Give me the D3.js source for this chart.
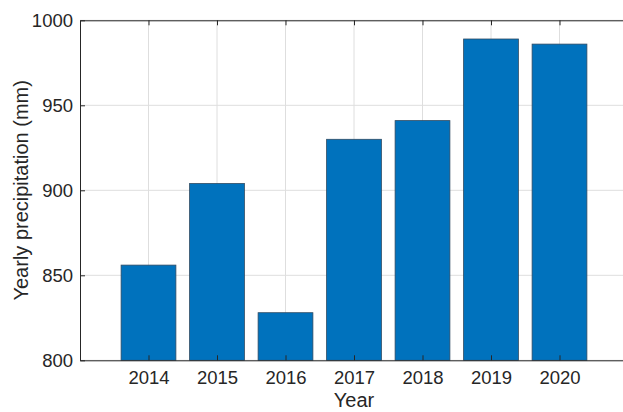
<!DOCTYPE html>
<html>
<head>
    <script src="https://d3js.org/d3.v7.min.js"></script>
    <style>
        body {
            margin: 0;
            background: #fff;
        }
        text {
            font-family: Helvetica, "Liberation Sans", Arial, sans-serif;
            fill: #262626;
        }
        .tick-label {
            font-size: 18.5px;
        }
        .axis-label {
            font-size: 20px;
        }
        .grid line {
            stroke: #dedede;
            stroke-width: 1;
        }
    </style>
</head>
<body>
    <svg id="chart" width="623" height="412"></svg>
    <script>
        // data
        const years = [2014, 2015, 2016, 2017, 2018, 2019, 2020];
        const precipitation = [856, 904, 828, 930, 941, 989, 986];
        const yTicks = [800, 850, 900, 950, 1000];

        const svg = d3.select("svg#chart");
        const margin = { top: 20.3, left: 80, bottom: 51.7 };
        const plotRight = 628; // axes run a little past the picture edge
        const height = 412;

        const xScale = d3.scaleLinear()
            .domain([2013, 2021])
            .range([margin.left, plotRight]);
        const yScale = d3.scaleLinear()
            .domain([800, 1000])
            .range([height - margin.bottom, margin.top]);

        const barWidth = (xScale(2014) - xScale(2013)) * 0.8;

        // grid
        const grid = svg.append("g").attr("class", "grid");
        grid.selectAll("line.v")
            .data(years)
            .join("line")
            .attr("class", "v")
            .attr("x1", d => xScale(d)).attr("x2", d => xScale(d))
            .attr("y1", yScale(800)).attr("y2", yScale(1000));
        grid.selectAll("line.h")
            .data(yTicks)
            .join("line")
            .attr("class", "h")
            .attr("x1", xScale(2013)).attr("x2", xScale(2021))
            .attr("y1", d => yScale(d)).attr("y2", d => yScale(d));

        // bars
        svg.append("g")
            .selectAll("rect")
            .data(years.map((y, i) => ({ year: y, value: precipitation[i] })))
            .join("rect")
            .attr("x", d => xScale(d.year) - barWidth / 2)
            .attr("y", d => yScale(d.value))
            .attr("width", barWidth)
            .attr("height", d => yScale(800) - yScale(d.value))
            .attr("fill", "#0072BD")
            .attr("stroke", "#2f4b63")
            .attr("stroke-width", 0.8);

        // axes (MATLAB style: ticks pointing inwards, box on)
        const axisColor = "#262626";
        const tickLen = 5;

        const bottomAxis = d3.axisBottom(xScale)
            .tickValues(years)
            .tickSizeInner(-tickLen)
            .tickSizeOuter(0)
            .tickPadding(11)
            .tickFormat(d3.format("d"));
        const gx = svg.append("g")
            .attr("transform", `translate(0,${yScale(800)})`)
            .call(bottomAxis);

        const leftAxis = d3.axisLeft(yScale)
            .tickValues(yTicks)
            .tickSizeInner(-tickLen)
            .tickSizeOuter(0)
            .tickPadding(7)
            .tickFormat(d3.format("d"));
        const gy = svg.append("g")
            .attr("transform", `translate(${margin.left},0)`)
            .call(leftAxis);

        const topAxis = d3.axisTop(xScale)
            .tickValues(years)
            .tickSizeInner(-tickLen)
            .tickSizeOuter(0)
            .tickFormat("");
        const gt = svg.append("g")
            .attr("transform", `translate(0,${yScale(1000)})`)
            .call(topAxis);

        const rightAxis = d3.axisRight(yScale)
            .tickValues(yTicks)
            .tickSizeInner(-tickLen)
            .tickSizeOuter(0)
            .tickFormat("");
        const gr = svg.append("g")
            .attr("transform", `translate(${plotRight},0)`)
            .call(rightAxis);

        [gx, gy, gt, gr].forEach(g => {
            g.attr("font-family", null).attr("font-size", null);
            g.select(".domain").attr("stroke", axisColor).attr("stroke-width", 1);
            g.selectAll(".tick line").attr("stroke", axisColor).attr("stroke-width", 1);
            g.selectAll(".tick text")
                .attr("class", "tick-label")
                .attr("fill", axisColor);
        });

        // axis titles
        svg.append("text")
            .attr("class", "axis-label")
            .attr("x", (margin.left + plotRight) / 2)
            .attr("y", 407)
            .attr("text-anchor", "middle")
            .text("Year");

        svg.append("text")
            .attr("class", "axis-label")
            .attr("transform", `translate(27.5,${(yScale(800) + yScale(1000)) / 2}) rotate(-90)`)
            .attr("text-anchor", "middle")
            .text("Yearly precipitation (mm)");
    </script>
</body>
</html>
